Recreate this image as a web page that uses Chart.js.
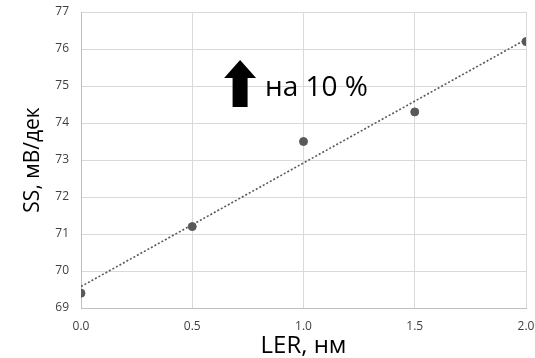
<!DOCTYPE html>
<html>
<head>
<meta charset="utf-8">
<script src="https://cdn.jsdelivr.net/npm/chart.js@4"></script>
<style>
  html, body { margin: 0; padding: 0; background: #fff; }
  #wrap { width: 535px; height: 358px; }
</style>
</head>
<body>
<div id="wrap"><canvas id="ssChart" width="535" height="358"></canvas></div>
<script>
const lerValues = [0.0, 0.5, 1.0, 1.5, 2.0];
const ssValues = [69.4, 71.2, 73.5, 74.3, 76.2];
const xTicks = [0.0, 0.5, 1.0, 1.5, 2.0];
const yTicks = [69, 70, 71, 72, 73, 74, 75, 76, 77];
const noteText = 'на 10 %';

// linear trendline (least squares), like the Excel one
const n = lerValues.length;
const mx = lerValues.reduce((a, b) => a + b, 0) / n;
const my = ssValues.reduce((a, b) => a + b, 0) / n;
let sxy = 0, sxx = 0;
for (let i = 0; i < n; i++) {
    sxy += (lerValues[i] - mx) * (ssValues[i] - my);
    sxx += (lerValues[i] - mx) * (lerValues[i] - mx);
}
const slope = sxy / sxx;
const icpt = my - slope * mx;
const xMin = xTicks[0], xMax = xTicks[xTicks.length - 1];
const trend = [
    { x: xMin, y: icpt + slope * xMin },
    { x: xMax, y: icpt + slope * xMax }
];

const points = lerValues.map((x, i) => ({ x: x, y: ssValues[i] }));

// arrow + text annotation, placed through the scales
const notePlugin = {
    id: 'note',
    afterDraw(chart) {
        const xs = chart.scales.x, ys = chart.scales.y;
        const c = chart.ctx;
        const cx = xs.getPixelForValue(0.715);
        const top = ys.getPixelForValue(75.70);
        const bot = ys.getPixelForValue(74.43);
        const headW = 16, headH = 18, shaftW = 7.5;
        c.save();
        c.fillStyle = '#000';
        c.beginPath();
        c.moveTo(cx, top);
        c.lineTo(cx + headW, top + headH);
        c.lineTo(cx + shaftW, top + headH);
        c.lineTo(cx + shaftW, bot);
        c.lineTo(cx - shaftW, bot);
        c.lineTo(cx - shaftW, top + headH);
        c.lineTo(cx - headW, top + headH);
        c.closePath();
        c.fill();
        c.font = '28px "Open Sans", sans-serif';
        c.textBaseline = 'middle';
        c.textAlign = 'left';
        c.fillText(noteText, xs.getPixelForValue(0.827), ys.getPixelForValue(74.95));
        c.restore();
    }
};

const ctx = document.getElementById('ssChart').getContext('2d');
const config = {
    type: 'scatter',
    data: {
        datasets: [{
            label: 'SS',
            data: points,
            backgroundColor: '#595959',
            borderColor: '#595959',
            pointRadius: 4,
            pointHoverRadius: 4,
            order: 1
        }, {
            label: 'trend',
            type: 'line',
            data: trend,
            borderColor: '#595959',
            borderWidth: 1.6,
            borderDash: [2, 2],
            pointRadius: 0,
            fill: false,
            order: 2
        }]
    },
    options: {
        responsive: false,
        animation: false,
        layout: { padding: { top: 12, right: 9, left: 0, bottom: 0 } },
        plugins: {
            legend: { display: false },
            tooltip: { enabled: false }
        },
        scales: {
            x: {
                type: 'linear',
                min: xMin,
                max: xMax,
                afterBuildTicks(scale) { scale.ticks = xTicks.map(v => ({ value: v })); },
                ticks: {
                    callback: v => Number(v).toFixed(1),
                    color: '#404040',
                    font: { family: 'Open Sans', size: 12 },
                    padding: 11
                },
                grid: { color: '#d9d9d9', drawTicks: false },
                border: { color: '#bfbfbf' },
                title: {
                    display: true,
                    text: 'LER, нм',
                    color: '#000',
                    font: { family: 'Open Sans', size: 24, lineHeight: 1.0 },
                    padding: { top: 0, bottom: 0 }
                },
                afterFit(scale) {
                    scale.height = 50;
                    scale.paddingLeft = 0;
                    scale.paddingRight = 0;
                }
            },
            y: {
                min: yTicks[0],
                max: yTicks[yTicks.length - 1],
                afterBuildTicks(scale) { scale.ticks = yTicks.map(v => ({ value: v })); },
                ticks: {
                    color: '#404040',
                    font: { family: 'Open Sans', size: 12 },
                    padding: 12
                },
                grid: { color: '#d9d9d9', drawTicks: false },
                border: { color: '#bfbfbf' },
                title: {
                    display: true,
                    text: 'SS, мВ/дек',
                    color: '#000',
                    font: { family: 'Open Sans', size: 21 },
                    padding: { top: 20, bottom: 0 }
                },
                afterFit(scale) {
                    scale.width = 81;
                    scale.paddingTop = 0;
                    scale.paddingBottom = 0;
                }
            }
        }
    },
    plugins: [notePlugin]
};

const ssChart = new Chart(ctx, config);
</script>
</body>
</html>
